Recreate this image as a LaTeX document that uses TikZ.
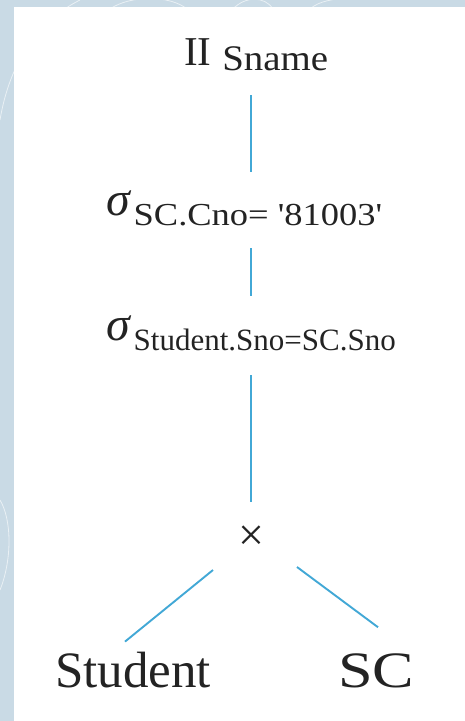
\documentclass[tikz,border=0pt]{standalone}
\usepackage{fontspec}
\setmainfont{Liberation Serif}
\newfontfamily\rawserif{Liberation Serif}
\usepackage{graphicx}
\definecolor{bgc}{RGB}{201,218,229}
\definecolor{linec}{RGB}{66,168,214}
\definecolor{txt}{RGB}{35,35,35}
\begin{document}
\begin{tikzpicture}[x=1pt,y=-1pt,
  conn/.style={draw=linec, line width=1.9pt},
  lbl/.style={inner sep=0pt, outer sep=0pt, text=txt},
  deco/.style={draw=white, opacity=0.6, line width=0.8pt}]
\useasboundingbox (0,0) rectangle (465,721);
\fill[bgc] (0,0) rectangle (465,721);
\begin{scope}
\clip (0,0) rectangle (465,7) (0,0) rectangle (14,721);
\draw[deco] (0,120) .. controls (10,60) and (40,20) .. (80,0);
\draw[deco] (110,9) .. controls (130,-5) and (170,-5) .. (187,9);
\draw[deco] (233,9) .. controls (245,-4) and (265,-4) .. (273,9);
\draw[deco] (310,9) .. controls (320,0) and (335,0) .. (340,-2);
\draw[deco] (0,500) .. controls (12,520) and (12,560) .. (0,590);
\end{scope}
\fill[white] (14,7) rectangle (465,721);

\node[lbl, anchor=base west] (pi) at (184,65)
  {\fontsize{41}{41}\selectfont II\hspace{11pt}\raisebox{-5pt}{\fontsize{36}{36}\selectfont\scalebox{1.08}[1]{Sname}}};
\node[lbl, anchor=base west] (s1) at (106,215)
  {\fontsize{48}{48}\selectfont\itshape σ\upshape\hspace{4pt}\raisebox{-10pt}{\fontsize{32}{32}\rawserif\scalebox{1.14}[1]{SC.Cno= '81003'}}};
\node[lbl, anchor=base west] (s2) at (106,340)
  {\fontsize{48}{48}\selectfont\itshape σ\upshape\hspace{4pt}\raisebox{-10pt}{\fontsize{31}{31}\selectfont Student.Sno=SC.Sno}};
\node[lbl] (x) at (251,538) {\fontsize{46}{46}\selectfont ×};
\node[lbl, anchor=base west] (st) at (55,687) {\fontsize{51}{51}\selectfont Student};
\node[lbl, anchor=base west] (sc) at (338,687) {\fontsize{51}{51}\selectfont\scalebox{1.22}[1]{SC}};

\draw[conn] ([yshift=-25pt]pi.south -| x.center) -- ([yshift=18pt]s1.north -| x.center);
\draw[conn] ([yshift=-23pt]s1.south -| x.center) -- ([yshift=19pt]s2.north -| x.center);
\draw[conn] ([yshift=-25pt]s2.south -| x.center) -- ([yshift=24pt]x.north);
\draw[conn] ([shift={(-38pt,-32pt)}]x.center) -- ([shift={(70pt,10pt)}]st.north west);
\draw[conn] ([shift={(46pt,-29pt)}]x.center) -- ([shift={(40pt,26pt)}]sc.north west);
\end{tikzpicture}
\end{document}
